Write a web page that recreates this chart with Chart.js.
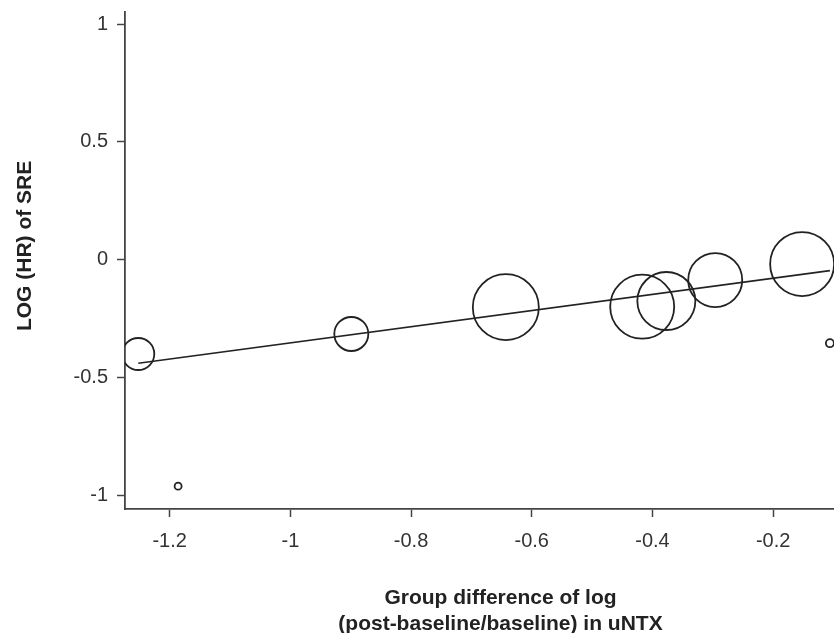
<!DOCTYPE html>
<html>
<head>
<meta charset="utf-8">
<script src="https://cdn.jsdelivr.net/npm/chart.js@4"></script>
<style>
  html, body { margin: 0; padding: 0; background: #fff; overflow: hidden; }
  #wrap { width: 876px; height: 633px; }
</style>
</head>
<body>
<div id="wrap"><canvas id="metaChart"></canvas></div>
<script>
// study points: x = group difference of log uNTX, y = log HR of SRE, size = study weight (px radius)
const studyX = [-1.252, -1.186, -0.899, -0.643, -0.417, -0.377, -0.296, -0.152, -0.106];
const studyY = [-0.401, -0.962, -0.316, -0.202, -0.200, -0.176, -0.087, -0.019, -0.355];
const studySize = [16, 3.5, 17, 33, 32, 29, 27, 32, 4];

// meta-regression line end points
const fitX = [-1.252, -0.106];
const fitY = [-0.440, -0.047];

const xTicks = [-1.2, -1, -0.8, -0.6, -0.4, -0.2];
const yTicks = [-1, -0.5, 0, 0.5, 1];

const axisColor = '#444';
const textColor = '#333';
const fontFamily = 'Liberation Sans, Arial, sans-serif';

const ctx = document.getElementById('metaChart').getContext('2d');
const metaChart = new Chart(ctx, {
    type: 'bubble',
    data: {
        datasets: [{
            type: 'bubble',
            data: studyX.map((x, i) => ({ x: x, y: studyY[i], r: studySize[i] })),
            backgroundColor: 'rgba(0,0,0,0)',
            borderColor: '#222',
            borderWidth: 1.8,
            hoverRadius: 0
        }, {
            type: 'line',
            data: fitX.map((x, i) => ({ x: x, y: fitY[i] })),
            borderColor: '#222',
            borderWidth: 1.6,
            pointRadius: 0,
            fill: false
        }]
    },
    options: {
        responsive: true,
        maintainAspectRatio: false,
        animation: false,
        layout: {
            autoPadding: false,
            padding: { top: 12, right: 0, bottom: 0, left: 0 }
        },
        scales: {
            x: {
                type: 'linear',
                min: -1.274,
                max: -0.0296,
                afterFit: function(scale) {
                    scale.height = 124;
                    scale.paddingLeft = 0;
                    scale.paddingRight = 0;
                },
                afterBuildTicks: function(scale) {
                    scale.ticks = xTicks.map(v => ({ value: v }));
                },
                ticks: {
                    color: textColor,
                    padding: 12,
                    maxRotation: 0,
                    font: { family: fontFamily, size: 20 },
                    callback: function(value) { return String(+value.toFixed(1)); }
                },
                grid: {
                    drawOnChartArea: false,
                    drawTicks: true,
                    tickLength: 8,
                    tickColor: axisColor,
                    tickWidth: 1.5
                },
                border: { display: true, color: axisColor, width: 1.8 },
                title: {
                    display: true,
                    text: ['Group difference of log', '(post-baseline/baseline) in uNTX'],
                    color: '#222',
                    font: { family: fontFamily, size: 21, weight: 'bold', lineHeight: 1.24 },
                    padding: { top: 0, bottom: -4 }
                }
            },
            y: {
                type: 'linear',
                min: -1.059,
                max: 1.051,
                afterFit: function(scale) {
                    scale.width = 125;
                    scale.paddingTop = 0;
                    scale.paddingBottom = 0;
                },
                afterBuildTicks: function(scale) {
                    scale.ticks = yTicks.map(v => ({ value: v }));
                },
                ticks: {
                    color: textColor,
                    padding: 9,
                    font: { family: fontFamily, size: 20 },
                    callback: function(value) { return String(+value.toFixed(1)); }
                },
                grid: {
                    drawOnChartArea: false,
                    drawTicks: true,
                    tickLength: 8,
                    tickColor: axisColor,
                    tickWidth: 1.5
                },
                border: { display: true, color: axisColor, width: 1.8 },
                title: {
                    display: true,
                    text: '     LOG (HR) of SRE',
                    color: '#222',
                    font: { family: fontFamily, size: 21, weight: 'bold' },
                    padding: { top: 13, bottom: 0 }
                }
            }
        },
        plugins: {
            legend: { display: false },
            tooltip: { enabled: false }
        }
    }
});
</script>
</body>
</html>
